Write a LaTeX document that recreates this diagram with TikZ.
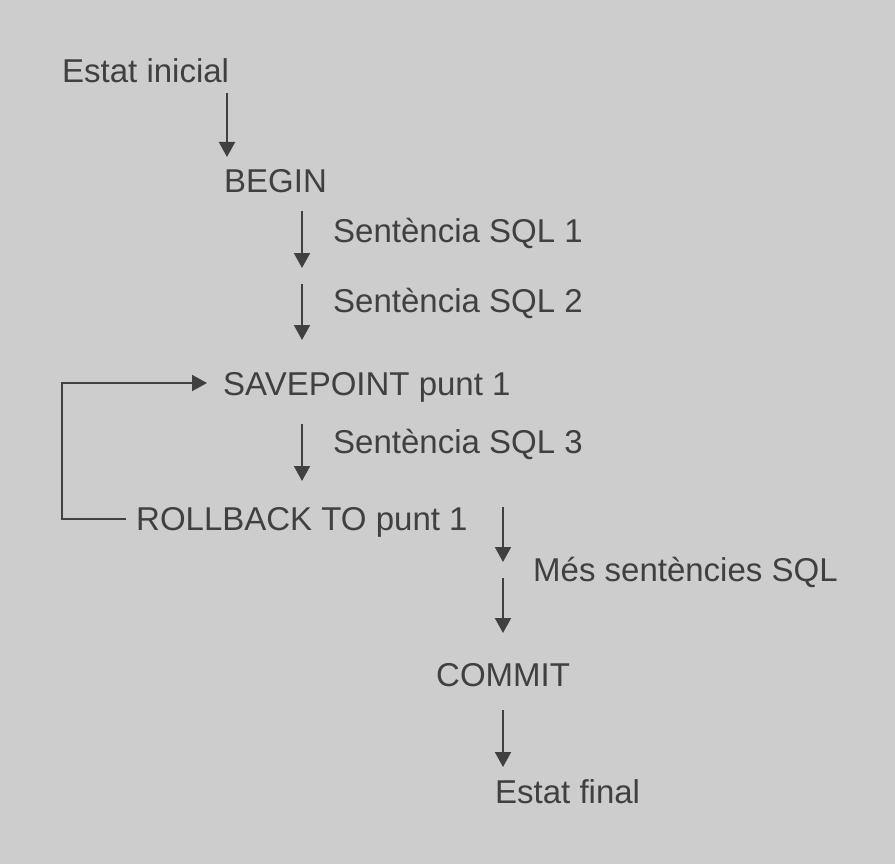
\documentclass[tikz,border=0pt]{standalone}
\usepackage{fontspec}
\setmainfont{Liberation Sans}
\usetikzlibrary{arrows.meta}
\definecolor{bgc}{HTML}{CDCDCD}
\definecolor{ink}{HTML}{404040}
\tikzset{
  lbl/.style={anchor=base west, inner sep=0pt, text=ink, font=\fontsize{33}{40}\selectfont},
  arr/.style={draw=ink, line width=2pt, -{Triangle[width=16pt,length=15pt]}},
  ln/.style={draw=ink, line width=2pt}
}
\begin{document}
\begin{tikzpicture}[x=1pt,y=-1pt]
\fill[bgc] (0,0) rectangle (895,864);
\useasboundingbox (0,0) rectangle (895,864);
% texts
\node[lbl] (ini) at (62,83) {Estat inicial};
\node[lbl] (begin) at (224,193) {BEGIN};
\node[lbl] (s1) at (333,242) {Sentència SQL 1};
\node[lbl] (s2) at (333,312) {Sentència SQL 2};
\node[lbl] (sp) at (223,395) {SAVEPOINT punt 1};
\node[lbl] (s3) at (333,453) {Sentència SQL 3};
\node[lbl] (rb) at (136,530) {ROLLBACK TO punt 1};
\node[lbl] (mes) at (533,581) {Més sentències SQL};
\node[lbl] (commit) at (436,686) {COMMIT};
\node[lbl] (fin) at (495,803) {Estat final};
% arrow end points
\coordinate (a1s) at (227,93);  \coordinate (a1e) at (227,157);
\coordinate (a2s) at (302,211); \coordinate (a2e) at (302,268);
\coordinate (a3s) at (302,284); \coordinate (a3e) at (302,340);
\coordinate (a4s) at (302,424); \coordinate (a4e) at (302,481);
\coordinate (a5s) at (503,507); \coordinate (a5e) at (503,562);
\coordinate (a6s) at (503,578); \coordinate (a6e) at (503,633);
\coordinate (a7s) at (503,710); \coordinate (a7e) at (503,767);
\coordinate (lpA) at (126,519); \coordinate (lpB) at (62,383);
\coordinate (lpC) at (207,383);
% connectors
\draw[arr] (a1s) -- (a1e);
\draw[arr] (a2s) -- (a2e);
\draw[arr] (a3s) -- (a3e);
\draw[arr] (a4s) -- (a4e);
\draw[arr] (a5s) -- (a5e);
\draw[arr] (a6s) -- (a6e);
\draw[arr] (a7s) -- (a7e);
\draw[arr] (lpA) -| (lpB) -- (lpC);
\end{tikzpicture}
\end{document}
